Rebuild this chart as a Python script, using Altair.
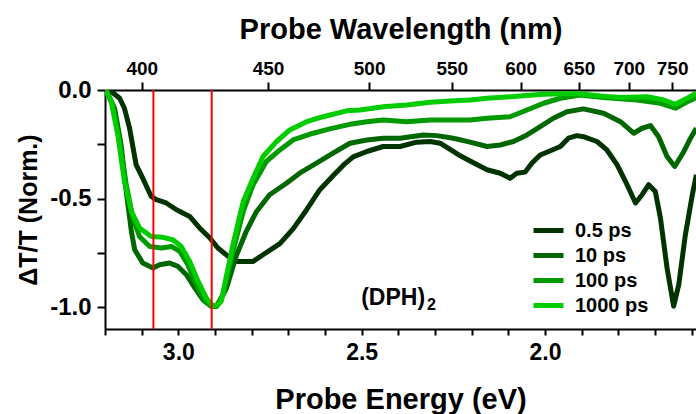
import altair as alt
import pandas as pd

# ---- data ----
series_names = ["0.5 ps", "10 ps", "100 ps", "1000 ps"]
series_colors = ["#003300", "#006600", "#009900", "#00cc00"]

E_05 = [3.197, 3.188, 3.160, 3.147, 3.133, 3.115, 3.097, 3.074, 3.060, 3.033, 3.005, 2.969, 2.942, 2.914, 2.892,
        2.864, 2.842, 2.796, 2.769, 2.723, 2.687, 2.650, 2.614, 2.578, 2.546, 2.523, 2.486, 2.441, 2.395,
        2.350, 2.313, 2.286, 2.250, 2.231, 2.195, 2.158, 2.122, 2.095, 2.077, 2.054, 2.036, 2.013, 1.990,
        1.958, 1.936, 1.913, 1.895, 1.858, 1.831, 1.803, 1.776, 1.753, 1.735, 1.717, 1.699, 1.685, 1.667,
        1.649, 1.635, 1.617, 1.598, 1.587]
V_05 = [0.0, 0.0, -0.038, -0.084, -0.176, -0.345, -0.406, -0.490, -0.505, -0.520, -0.551, -0.582, -0.635, -0.681,
        -0.727, -0.766, -0.789, -0.789, -0.758, -0.707, -0.639, -0.551, -0.459, -0.395, -0.340, -0.308,
        -0.283, -0.260, -0.260, -0.240, -0.237, -0.245, -0.283, -0.303, -0.335, -0.367, -0.383, -0.406,
        -0.383, -0.378, -0.337, -0.299, -0.283, -0.260, -0.222, -0.210, -0.215, -0.237, -0.276, -0.345,
        -0.436, -0.520, -0.482, -0.436, -0.467, -0.589, -0.819, -0.995, -0.896, -0.666, -0.482, -0.390]

E_10 = [3.197, 3.174, 3.156, 3.142, 3.128, 3.119, 3.097, 3.069, 3.051, 3.024, 3.001, 2.978, 2.955, 2.933,
        2.910, 2.896, 2.869, 2.842, 2.814, 2.787, 2.751, 2.705, 2.669, 2.623, 2.578, 2.532, 2.486, 2.441,
        2.395, 2.332, 2.295, 2.250, 2.204, 2.158, 2.122, 2.086, 2.049, 2.013, 1.977, 1.940, 1.895, 1.840,
        1.794, 1.758, 1.735, 1.712, 1.690, 1.667, 1.646, 1.621, 1.603, 1.587]
V_10 = [0.0, -0.084, -0.253, -0.467, -0.651, -0.735, -0.796, -0.819, -0.804, -0.796, -0.812, -0.850, -0.911,
        -0.965, -0.995, -0.997, -0.914, -0.763, -0.648, -0.560, -0.482, -0.429, -0.383, -0.337, -0.291,
        -0.245, -0.230, -0.222, -0.222, -0.207, -0.210, -0.222, -0.240, -0.260, -0.253, -0.237, -0.207,
        -0.169, -0.130, -0.100, -0.087, -0.107, -0.146, -0.199, -0.176, -0.164, -0.215, -0.306, -0.352,
        -0.283, -0.222, -0.176]

E_100 = [3.197, 3.179, 3.160, 3.142, 3.124, 3.106, 3.078, 3.046, 3.019, 2.996, 2.974, 2.951, 2.928, 2.910,
         2.896, 2.878, 2.851, 2.823, 2.796, 2.760, 2.723, 2.687, 2.632, 2.587, 2.532, 2.486, 2.441, 2.377,
         2.313, 2.259, 2.204, 2.158, 2.095, 2.049, 2.004, 1.958, 1.904, 1.840, 1.749, 1.685, 1.644, 1.612,
         1.587]
V_100 = [0.0, -0.069, -0.237, -0.436, -0.589, -0.674, -0.720, -0.727, -0.720, -0.743, -0.804, -0.896, -0.972,
         -0.995, -0.995, -0.942, -0.743, -0.559, -0.436, -0.329, -0.276, -0.230, -0.199, -0.179, -0.158,
         -0.146, -0.138, -0.146, -0.138, -0.138, -0.138, -0.130, -0.123, -0.092, -0.061, -0.038, -0.023,
         -0.035, -0.046, -0.061, -0.084, -0.054, -0.035]

E_1000 = [3.199, 3.183, 3.165, 3.147, 3.128, 3.106, 3.074, 3.042, 3.015, 2.992, 2.969, 2.946, 2.924, 2.905,
          2.892, 2.883, 2.851, 2.823, 2.796, 2.769, 2.732, 2.696, 2.650, 2.605, 2.541, 2.505, 2.441, 2.377,
          2.313, 2.259, 2.204, 2.158, 2.095, 2.004, 1.913, 1.849, 1.794, 1.721, 1.676, 1.644, 1.612, 1.587]
V_1000 = [0.0, -0.054, -0.207, -0.421, -0.559, -0.635, -0.674, -0.678, -0.689, -0.720, -0.789, -0.881, -0.957,
          -0.995, -0.988, -0.972, -0.712, -0.513, -0.406, -0.306, -0.237, -0.184, -0.146, -0.123, -0.096,
          -0.092, -0.077, -0.069, -0.056, -0.051, -0.046, -0.038, -0.031, -0.020, -0.016, -0.028, -0.035,
          -0.031, -0.046, -0.066, -0.038, -0.015]

red_lines_E = [3.068, 2.909]

x_ticks_eV = [3.2, 3.1, 3.0, 2.9, 2.8, 2.7, 2.6, 2.5, 2.4, 2.3, 2.2, 2.1, 2.0, 1.9, 1.8, 1.7, 1.6]
top_ticks_nm = [400, 450, 500, 550, 600, 650, 700, 750]
y_ticks = [0.0, -0.25, -0.5, -0.75, -1.0]

anno_main = ["(DPH)"]
anno_main_E = [2.327]
anno_main_V = [-0.957]
anno_sub = ["2"]
anno_sub_E = [2.322]
anno_sub_V = [-0.990]

# ---- build table ----
rows = []
for name, Es, Vs in zip(series_names, [E_05, E_10, E_100, E_1000], [V_05, V_10, V_100, V_1000]):
    for i, (e, v) in enumerate(zip(Es, Vs)):
        rows.append({"series": name, "E": e, "v": v, "i": i})
df = pd.DataFrame(rows)

df_red = pd.DataFrame({"E": red_lines_E})
df_main = pd.DataFrame({"t": anno_main, "E": anno_main_E, "v": anno_main_V})
df_sub = pd.DataFrame({"t": anno_sub, "E": anno_sub_E, "v": anno_sub_V})

FONT = "Liberation Sans"
x_scale = alt.Scale(domain=[1.588, 3.2], reverse=True, nice=False, zero=False)
y_scale = alt.Scale(domain=[-1.1, 0.0], nice=False, zero=False)

y_axis = alt.Axis(
    values=y_ticks, title="ΔT/T (Norm.)",
    labelExpr="abs(datum.value*2 - round(datum.value*2)) < 0.001 ? replace(format(datum.value, '.1f'), '\u2212', '-') : ''",
    tickSize=8, tickWidth=2, domainWidth=2, labelFontSize=24, labelPadding=6,
    titleFontSize=25, titlePadding=8, grid=False,
)
y_enc = alt.Y("v:Q", scale=y_scale, axis=y_axis)

lines = alt.Chart(df).mark_line(strokeWidth=5, clip=True, strokeJoin="round").encode(
    x=alt.X(
        "E:Q", scale=x_scale,
        axis=alt.Axis(
            orient="bottom", values=x_ticks_eV, title="Probe Energy (eV)",
            labelExpr="abs(datum.value*2 - round(datum.value*2)) < 0.001 ? format(datum.value, '.1f') : ''",
            tickSize=6, tickWidth=2, domainWidth=2, labelFontSize=23, labelPadding=6,
            titleFontSize=29, titlePadding=21, grid=False, labelFlush=False, labelOverlap=False,
        ),
    ),
    y=y_enc,
    color=alt.Color(
        "series:N",
        scale=alt.Scale(domain=series_names, range=series_colors),
        legend=alt.Legend(
            title=None, orient="none", legendX=431, legendY=128,
            symbolType="M-1.5,0H1.5", symbolSize=400, symbolStrokeWidth=5,
            labelFontSize=20, labelFontWeight="bold",
            labelFont=FONT, labelOffset=14, rowPadding=2, labelColor="black",
        ),
    ),
    order=alt.Order("i:Q"),
)

top_vals = [1239.84 / w for w in top_ticks_nm]
red = alt.Chart(df_red).mark_rule(color="#ff0000", strokeWidth=2).encode(
    x=alt.X(
        "E:Q", scale=x_scale,
        axis=alt.Axis(
            orient="top", values=top_vals, title="Probe Wavelength (nm)",
            labelExpr="format(1239.84/datum.value, '.0f')",
            tickSize=8, tickWidth=2, domainWidth=2, labelFontSize=19, labelPadding=4,
            titleFontSize=29, titlePadding=15, grid=False, labelFlush=False, labelOverlap=False,
        ),
    ),
)

main_txt = alt.Chart(df_main).mark_text(
    fontWeight="bold", font=FONT, color="black", baseline="middle", align="right", fontSize=23
).encode(
    x=alt.X("E:Q", scale=x_scale, axis=None),
    y=y_enc,
    text="t:N",
)
sub_txt = alt.Chart(df_sub).mark_text(
    fontWeight="bold", font=FONT, color="black", baseline="middle", align="left", fontSize=16
).encode(
    x=alt.X("E:Q", scale=x_scale, axis=None),
    y=y_enc,
    text="t:N",
)

chart = alt.layer(lines, red, main_txt, sub_txt).resolve_axis(x="independent").properties(
    width=591, height=239,
    autosize=alt.AutoSizeParams(type="none"),
    padding={"left": 105, "top": 90, "right": 0, "bottom": 85},
    background="white",
).configure_axis(
    labelFont=FONT, titleFont=FONT, labelFontWeight="bold", titleFontWeight="bold",
    labelColor="black", titleColor="black", tickColor="black", domainColor="black",
).configure_view(stroke=None)

chart.save("out.html", embed_options={"renderer": "svg", "actions": False})
